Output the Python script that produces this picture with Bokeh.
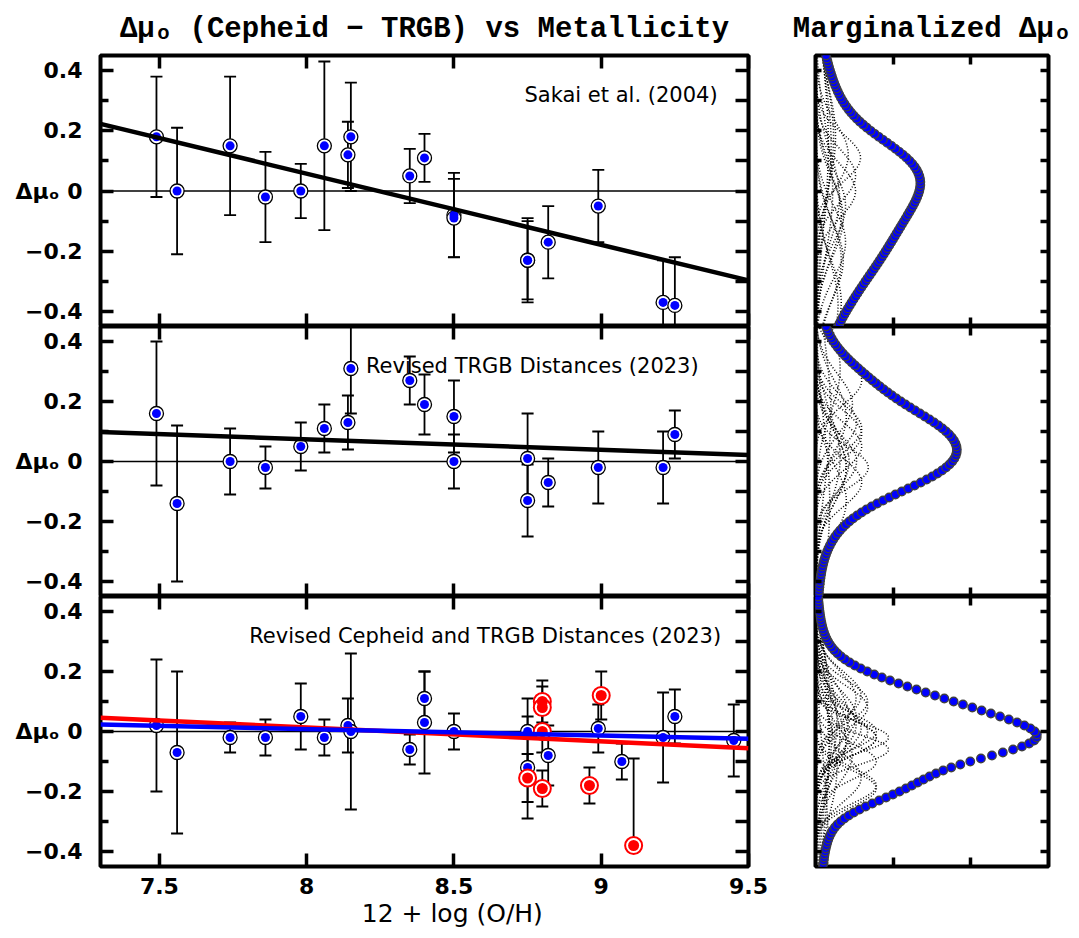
import numpy as np
from bokeh.plotting import figure
from bokeh.models import (Range1d, LinearAxis, FixedTicker, Whisker, TeeHead,
                          ColumnDataSource, Span, Label)
from bokeh.layouts import row, column
from bokeh.embed import file_html
from bokeh.resources import INLINE

# ---------------- data ----------------
x_ticks = [7.5, 8.0, 8.5, 9.0, 9.5]
x_tick_labels = ["7.5", "8", "8.5", "9", "9.5"]
y_ticks = [-0.4, -0.2, 0.0, 0.2, 0.4]
y_tick_labels = ["\u22120.4", "\u22120.2", "\u0394\u03bc\u2092 0", "0.2", "0.4"]
y_minor_ticks = [-0.3, -0.1, 0.1, 0.3]
y_all_ticks = [-0.4, -0.3, -0.2, -0.1, 0.0, 0.1, 0.2, 0.3, 0.4]
marg_ticks = [1.0, 2.0]

# Panel 1 : Sakai et al. (2004)
sakai_oh = [7.49, 7.56, 7.74, 7.86, 7.98, 8.06, 8.14, 8.15, 8.35, 8.40, 8.50, 8.50,
            8.75, 8.75, 8.82, 8.99, 9.21, 9.25]
sakai_dmu = [0.18, 0.00, 0.15, -0.02, 0.00, 0.15, 0.12, 0.18, 0.05, 0.11, -0.08, -0.09,
             -0.23, -0.23, -0.17, -0.05, -0.37, -0.38]
sakai_err = [0.20, 0.21, 0.23, 0.15, 0.09, 0.28, 0.11, 0.18, 0.09, 0.08, 0.14, 0.13,
             0.14, 0.13, 0.12, 0.12, 0.14, 0.16]

# Panel 2 : Revised TRGB distances (2023)
trgb_oh = [7.49, 7.56, 7.74, 7.86, 7.98, 8.06, 8.14, 8.15, 8.35, 8.40, 8.50, 8.50,
           8.75, 8.75, 8.82, 8.99, 9.21, 9.25]
trgb_dmu = [0.16, -0.14, 0.00, -0.02, 0.05, 0.11, 0.13, 0.31, 0.27, 0.19, 0.15, 0.00,
            0.01, -0.13, -0.07, -0.02, -0.02, 0.09]
trgb_err = [0.24, 0.26, 0.11, 0.07, 0.08, 0.08, 0.09, 0.15, 0.08, 0.10, 0.12, 0.09,
            0.15, 0.12, 0.08, 0.12, 0.12, 0.08]

# Panel 3 : Revised Cepheid and TRGB distances (2023) - blue sample
both_oh = [7.49, 7.56, 7.74, 7.86, 7.98, 8.06, 8.14, 8.15, 8.35, 8.40, 8.40, 8.50,
           8.75, 8.75, 8.82, 8.99, 9.07, 9.21, 9.25, 9.45]
both_dmu = [0.02, -0.07, -0.02, -0.02, 0.05, -0.02, 0.02, 0.00, -0.06, 0.11, 0.03, 0.00,
            0.00, -0.12, -0.08, 0.01, -0.10, -0.02, 0.05, -0.03]
both_err = [0.22, 0.27, 0.05, 0.06, 0.11, 0.06, 0.09, 0.26, 0.05, 0.09, 0.17, 0.06,
            0.11, 0.17, 0.10, 0.08, 0.06, 0.15, 0.09, 0.12]

# Panel 3 - red sample
red_oh = [8.75, 8.80, 8.80, 8.80, 8.80, 8.96, 9.00, 9.11]
red_dmu = [-0.155, 0.10, 0.08, 0.00, -0.19, -0.18, 0.12, -0.38]
red_err_lo = [0.08, 0.07, 0.07, 0.07, 0.06, 0.06, 0.08, 0.00]
red_err_hi = [0.08, 0.07, 0.07, 0.07, 0.06, 0.06, 0.08, 0.29]

# linear fits (value at the two ends of the x range)
fit_x = [7.3, 9.5]
sakai_fit = [0.223, -0.297]
trgb_fit = [0.098, 0.022]
both_fit_red = [0.046, -0.056]
both_fit_blue = [0.023, -0.024]

# marginalized panels: peak of summed curve and of tallest individual curve
marg_peak = [1.35, 1.82, 2.85]
indiv_peak = [0.58, 0.68, 0.94]

# ---------------- styling ----------------
BLUE = "#0000ff"
RED = "#ff0000"
TICK_FONT = "DejaVu Sans"
TEXT_FONT = "DejaVu Sans"
TITLE_FONT = "Liberation Mono"

LEFT_W, RIGHT_W = 768, 311
X_RANGE = (7.3, 9.5)
Y_RANGE = (-0.45, 0.45)
XLABEL = "\u00a0" * 7 + "12 + log (O/H)"


def frame_fig(width, height, xr, left, right, top, bottom):
    p = figure(width=width, height=height,
               x_range=Range1d(*xr), y_range=Range1d(*Y_RANGE),
               x_axis_location=None, y_axis_location=None,
               output_backend="svg", toolbar_location=None,
               min_border_left=left, min_border_right=right,
               min_border_top=top, min_border_bottom=bottom,
               outline_line_color="black", outline_line_width=4,
               border_fill_color="white", background_fill_color="white")
    p.grid.visible = False
    return p


def add_axis(p, side, ticks, tick_in, minor=None, minor_in=0, labels=None,
             font_size="0px", standoff=0):
    ax = LinearAxis(ticker=FixedTicker(ticks=ticks, minor_ticks=minor or []),
                    axis_line_color=None,
                    major_tick_in=tick_in, major_tick_out=0,
                    minor_tick_in=minor_in, minor_tick_out=0,
                    major_tick_line_width=3.5, minor_tick_line_width=3.5,
                    major_tick_line_color="black", minor_tick_line_color="black",
                    major_label_standoff=standoff,
                    major_label_text_font_size=font_size,
                    major_label_text_font=TICK_FONT,
                    major_label_text_font_style="bold",
                    major_label_text_color="black")
    if labels is not None:
        ax.major_label_overrides = {t: l for t, l in zip(ticks, labels)}
    else:
        ax.major_label_overrides = {t: "" for t in ticks}
    p.add_layout(ax, side)
    return ax


def set_title(p, text):
    p.title.text = text
    p.title.text_font = TITLE_FONT
    p.title.text_font_style = "bold"
    p.title.text_font_size = "29px"
    p.title.align = "center"
    p.title.vertical_align = "top"
    p.title.text_color = "black"
    p.title.standoff = 16


def add_points(p, oh, dmu, lo, hi, color, ring, ring_w, dot):
    src = ColumnDataSource(dict(x=oh, y=dmu,
                                lo=list(np.array(dmu) - np.array(lo)),
                                hi=list(np.array(dmu) + np.array(hi))))
    w = Whisker(source=src, base="x", upper="hi", lower="lo",
                line_color="black", line_width=1.8, level="underlay",
                upper_head=TeeHead(size=12, line_width=1.8, line_color="black"),
                lower_head=TeeHead(size=12, line_width=1.8, line_color="black"))
    p.add_layout(w)
    p.scatter("x", "y", source=src, size=ring, fill_color="white",
              line_color=color if color == RED else "black", line_width=ring_w)
    p.scatter("x", "y", source=src, size=dot, fill_color=color, line_color=None)


def main_panel(height, top, bottom, groups, fits, text, text_x, text_align, xlabels):
    p = frame_fig(LEFT_W, height, X_RANGE, 100, 20, top, bottom)
    p.add_layout(Span(location=0, dimension="width", line_color="black",
                      line_width=1.5, level="underlay"))
    for oh, dmu, lo, hi, color, ring, ring_w, dot in groups:
        add_points(p, oh, dmu, lo, hi, color, ring, ring_w, dot)
    for fy, color in fits:
        p.line(fit_x, fy, line_color=color, line_width=4.5)
    add_axis(p, "left", y_ticks, 13, y_minor_ticks, 8, y_tick_labels, "22px", 18)
    add_axis(p, "right", y_all_ticks, 13)
    add_axis(p, "above", x_ticks, 13)
    if xlabels:
        ax = add_axis(p, "below", x_ticks, 13, labels=x_tick_labels, font_size="22px",
                      standoff=11)
        ax.axis_label = XLABEL
        ax.axis_label_standoff = 2
        ax.axis_label_text_font = TEXT_FONT
        ax.axis_label_text_font_size = "25px"
        ax.axis_label_text_font_style = "normal"
        ax.axis_label_text_color = "black"
    else:
        add_axis(p, "below", x_ticks, 13)
    p.add_layout(Label(x=text_x, y=0.32, text=text, text_align=text_align,
                       text_baseline="middle", text_font=TEXT_FONT,
                       text_font_size="21px", text_color="black"))
    return p


def marg_panel(height, top, bottom, vals, errs, peak, ipeak):
    p = frame_fig(RIGHT_W, height, (0, 3), 47, 31, top, bottom)
    vals = np.asarray(vals, float)
    errs = np.asarray(errs, float)
    yy = np.linspace(Y_RANGE[0], Y_RANGE[1], 91)
    yf = np.linspace(Y_RANGE[0], Y_RANGE[1], 181)
    gf = np.exp(-0.5 * ((yf[None, :] - vals[:, None]) / errs[:, None]) ** 2) / errs[:, None]
    g = np.exp(-0.5 * ((yy[None, :] - vals[:, None]) / errs[:, None]) ** 2) / errs[:, None]
    ind = gf / gf.max() * ipeak
    total = g.sum(axis=0)
    total = total / total.max() * peak
    p.multi_line(xs=[list(r) for r in ind], ys=[list(yf)] * len(ind),
                 line_color="black", line_width=1.5, line_dash="1 2")
    p.scatter(list(total), list(yy), size=8.5, fill_color=BLUE, line_color="#404040",
              line_width=1.3)
    add_axis(p, "left", y_all_ticks, 6)
    add_axis(p, "right", y_all_ticks, 8)
    add_axis(p, "above", marg_ticks, 9)
    add_axis(p, "below", marg_ticks, 9)
    return p


blue_grp = lambda oh, d, e: (oh, d, e, e, BLUE, 14, 1.3, 9)

p1 = main_panel(326, 55, 0, [blue_grp(sakai_oh, sakai_dmu, sakai_err)],
                [(sakai_fit, "black")], "Sakai et al. (2004)", 9.395, "right", False)
set_title(p1, "\u0394\u03bc\u2092 (Cepheid \u2212 TRGB) vs Metallicity")
p2 = main_panel(270, 0, 0, [blue_grp(trgb_oh, trgb_dmu, trgb_err)],
                [(trgb_fit, "black")], "Revised TRGB Distances (2023)", 8.766, "center", False)
p3 = main_panel(342, 0, 72,
                [blue_grp(both_oh, both_dmu, both_err),
                 (red_oh, red_dmu, red_err_lo, red_err_hi, RED, 17, 2.0, 11)],
                [(both_fit_red, RED), (both_fit_blue, BLUE)],
                "Revised Cepheid and TRGB Distances (2023)", 8.606, "center", True)

m1 = marg_panel(326, 55, 0, sakai_dmu, sakai_err, marg_peak[0], indiv_peak[0])
set_title(m1, "Marginalized \u0394\u03bc\u2092")
m2 = marg_panel(270, 0, 0, trgb_dmu, trgb_err, marg_peak[1], indiv_peak[1])
red_sig = [max(a, b) for a, b in zip(red_err_lo, red_err_hi)]
m3 = marg_panel(342, 0, 72, both_dmu + red_dmu, both_err + red_sig,
                marg_peak[2], indiv_peak[2])

layout = row(column(p1, p2, p3), column(m1, m2, m3))

with open("out.html", "w") as f:
    f.write(file_html(layout, INLINE))
